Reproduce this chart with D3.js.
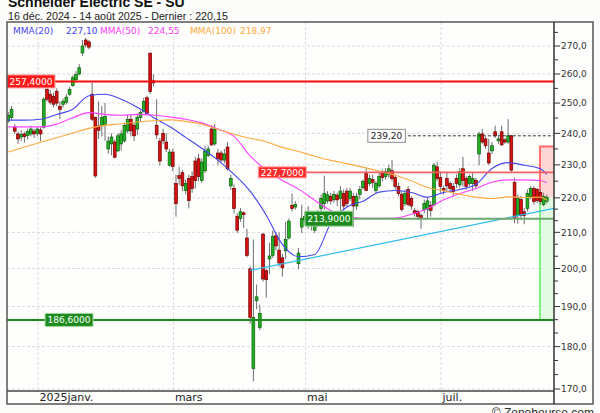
<!DOCTYPE html>
<html><head><meta charset="utf-8">
<script src="https://cdn.jsdelivr.net/npm/d3@7"></script>
<style>
html,body{margin:0;padding:0;background:#fcfdfb;overflow:hidden;}
svg{display:block;}
</style></head><body>
<svg id="c" width="600" height="413"></svg>
<script>
const titleText = "Schneider Electric SE - SU";
const subtitleText = "16 déc. 2024 - 14 août 2025 - Dernier : 220,15";

// Daily OHLC, trading-day index 0 = 16 déc. 2024 ... 167 = 14 août 2025
const opens = [244.0,245.2,242.0,239.8,238.8,239.8,239.3,239.8,240.7,240.0,241.1,242.0,254.6,253.0,252.3,254.0,248.9,249.6,250.3,253.0,256.0,258.0,260.0,267.5,272.2,271.5,253.0,245.2,242.4,242.6,243.0,235.0,236.6,237.2,234.4,236.6,237.6,240.8,244.6,242.6,241.4,245.2,247.2,251.8,267.4,257.6,242.6,237.5,240.0,237.2,229.9,234.0,224.3,226.7,227.6,222.2,225.8,226.4,231.2,231.9,225.2,228.2,232.9,241.4,236.6,233.7,233.7,231.5,235.6,223.6,222.8,214.6,214.0,215.6,208.4,199.9,174.8,191.5,184.7,209.5,199.4,202.6,203.6,209.0,205.0,202.9,204.8,208.4,217.8,217.3,201.3,211.5,213.5,215.0,213.5,210.6,212.5,216.9,218.3,219.1,220.4,219.5,220.8,219.8,221.3,222.0,219.8,220.4,217.6,221.0,223.0,227.3,224.3,225.5,222.2,223.6,227.6,226.4,227.0,228.2,226.1,223.4,221.0,218.3,222.5,219.8,216.2,216.0,214.8,216.5,216.6,217.8,217.9,229.4,226.1,222.8,225.8,224.3,223.4,225.8,223.9,228.8,225.8,224.3,224.3,225.2,233.4,239.8,238.2,233.7,234.4,240.5,237.6,240.5,237.9,237.2,239.2,224.6,214.8,219.5,215.9,216.9,220.4,222.8,222.5,221.6,218.0,219.0];
const highs = [247.0,249.0,243.0,240.5,241.0,240.5,241.5,242.5,241.5,242.0,242.0,252.0,256.0,254.5,253.5,255.0,250.5,251.5,253.0,255.5,259.5,261.0,263.5,272.2,273.0,272.2,257.0,245.5,250.5,249.0,250.0,239.0,240.0,238.0,240.0,241.0,243.5,246.0,246.2,243.5,246.5,247.5,251.8,252.5,267.6,259.8,251.3,238.5,241.5,240.0,235.0,235.0,227.0,229.4,228.5,225.5,227.0,228.0,232.5,233.5,232.0,236.0,236.0,242.6,243.0,235.0,234.5,235.0,237.2,227.0,224.0,215.5,217.0,216.0,211.0,200.5,208.0,195.7,190.5,209.8,200.0,207.0,210.5,210.0,210.0,204.0,213.0,214.0,221.3,219.0,205.6,218.0,216.0,217.5,214.5,212.5,216.5,221.0,226.7,222.0,221.5,222.0,221.5,223.5,222.5,223.0,223.0,221.5,221.5,223.5,225.5,229.0,227.0,227.0,225.0,227.5,228.5,229.0,230.0,231.5,227.0,224.5,222.0,222.5,223.5,220.5,217.0,216.5,215.5,219.5,220.0,219.0,230.6,231.0,228.0,223.5,227.5,225.0,224.5,227.0,229.0,232.5,226.5,227.0,227.5,226.0,240.5,241.4,239.0,238.2,237.2,242.5,239.0,242.5,238.5,244.6,239.5,226.1,221.0,220.5,217.0,222.5,223.5,223.5,223.0,222.5,221.5,221.0];
const lows = [243.5,244.5,239.8,236.6,237.5,237.0,238.0,239.0,238.5,239.0,237.5,241.5,250.5,249.5,248.5,249.0,244.6,248.5,249.5,252.5,255.5,257.5,259.5,266.5,269.5,268.8,244.0,226.0,238.2,239.0,237.6,233.5,233.0,232.0,234.0,234.5,237.0,240.0,239.0,237.5,239.5,244.0,246.8,246.2,253.0,255.6,238.2,229.7,236.5,234.0,229.5,228.0,214.5,223.9,222.0,221.0,216.9,221.5,222.8,225.0,224.5,227.5,232.5,236.0,236.0,230.0,230.5,230.5,228.2,222.4,215.5,209.8,213.0,211.2,203.0,185.7,171.8,189.3,184.0,196.5,192.3,198.5,202.9,205.0,200.5,197.8,202.6,208.0,216.0,216.5,199.8,209.8,212.0,211.0,210.5,209.8,211.5,216.0,216.5,218.3,218.0,218.5,217.5,215.5,216.5,217.5,219.0,211.5,216.5,219.5,222.5,222.0,223.5,223.0,221.5,223.0,225.0,225.5,226.0,225.0,222.5,220.5,216.0,217.5,217.5,216.5,214.5,213.5,211.0,215.5,214.0,214.5,217.5,225.0,221.5,221.0,222.0,221.5,220.5,223.0,223.0,223.3,222.4,223.5,222.0,222.5,229.9,236.6,235.0,230.0,233.4,238.5,236.6,236.0,236.6,236.6,227.6,212.6,212.5,213.5,212.3,216.0,219.5,218.0,218.5,218.0,217.5,218.3];
const closes = [245.8,247.9,240.7,238.2,239.6,239.0,240.6,241.4,239.8,241.4,239.8,251.3,251.3,250.3,249.6,250.0,247.9,250.6,252.0,254.6,258.7,259.8,262.2,270.0,270.4,269.6,244.6,226.6,241.0,245.2,245.5,237.5,238.8,232.4,239.2,239.8,242.6,244.6,240.8,239.2,245.2,246.9,250.6,246.5,253.9,256.9,239.5,231.2,237.6,235.0,234.0,229.5,218.3,225.8,223.6,224.3,219.2,222.8,225.2,226.4,230.9,234.3,235.0,236.3,241.4,231.9,231.5,233.4,228.8,225.8,216.9,210.6,215.9,215.1,203.6,187.2,187.2,192.5,188.2,197.2,197.0,203.4,208.8,206.2,201.5,200.2,208.0,213.2,216.9,218.0,204.2,214.0,214.5,213.0,212.0,211.7,215.5,219.8,221.3,220.9,219.1,221.0,219.4,222.0,217.6,218.3,222.0,217.6,220.5,222.5,224.9,222.2,225.8,224.6,224.3,226.4,226.1,227.9,228.8,225.8,223.4,221.3,216.6,221.3,218.0,217.6,215.4,214.6,214.0,218.3,219.1,216.3,229.9,225.8,223.4,222.2,223.6,222.8,221.9,224.3,227.9,225.2,223.4,226.4,225.8,223.6,239.8,237.2,236.0,230.6,236.0,239.2,238.2,236.3,237.2,239.2,228.4,214.0,219.8,214.8,214.8,221.3,222.8,218.9,219.2,218.9,220.4,220.15];

// Moving averages at these trading-day indices
const maIndex = [0,5,10,15,20,25,30,35,40,45,50,55,60,65,70,75,80,85,90,95,100,105,110,115,120,125,130,135,140,145,150,155,160,165,167];
const ma20 = [244.3,244.3,244.6,246.2,247.9,252.5,253.0,251.3,248.6,245.2,242.2,238.7,235.2,231.5,227.1,222.0,214.9,206.6,203.2,203.8,212.5,217.3,219.0,221.7,222.2,221.6,220.2,221.6,222.5,224.0,228.9,230.7,229.9,228.8,227.1];
const ma50 = [242.1,242.1,242.1,243.0,245.1,246.8,246.2,245.9,246.2,246.0,245.4,244.6,243.4,241.4,239.0,232.8,228.4,225.2,222.6,219.3,216.3,214.6,214.0,214.0,214.1,215.2,216.8,219.4,221.3,222.8,224.7,225.4,225.4,225.2,224.55];
const ma100 = [234.0,235.6,237.1,238.6,240.1,241.6,242.6,243.1,243.7,244.1,244.4,243.9,243.0,241.3,239.7,238.4,237.3,235.5,234.2,232.7,231.4,230.4,229.3,228.1,226.8,225.1,223.1,222.1,221.1,220.2,219.8,220.3,220.1,220.2,219.3];
const maNames = ["MMA(20)","MMA(50)","MMA(100)"];
const maLast = ["227,10","224,55","218,97"];

// Axis ticks
const yTicks = [170,180,190,200,210,220,230,240,250,260,270];
const monthIndex = [10,52,93,135];
const monthLabels = ["2025janv.","mars","mai","juil."];

// Levels and annotations
const levelValues = [257.4, 227.7, 213.9, 186.6];
const levelLabels = ["257,4000","227,7000","213,9000","186,6000"];
const dashedLevel = 239.2;
const dashedLabel = "239,20";
const trendIndex = [75, 169.2];
const trendValues = [199.5, 216.9];
const targetHigh = 235.8;
const lastPrice = 220.15;
const targetLow = 186.6;

// ---------- drawing ----------
const svg = d3.select("#c");
const L = 7, R = 554, T = 22, B = 391, AX = 593, BB = 404;
const x = d3.scaleLinear().domain([0, 167]).range([8.3, 546.8]);
const y = d3.scaleLog().domain([170, 270]).range([389, 46]);
const fmt1 = v => d3.format(".1f")(v).replace(".", ",");

svg.append("rect").attr("x",0).attr("y",0).attr("width",600).attr("height",413).attr("fill","#fcfdfb");
svg.append("rect").attr("x",L).attr("y",T).attr("width",AX-L).attr("height",BB-T).attr("fill","#fefefd");

// title
svg.append("text").attr("x",8).attr("y",6.5).attr("font-family","Liberation Sans, Arial, sans-serif")
  .attr("font-weight","bold").attr("font-size",14).attr("fill","#111").text(titleText);
svg.append("text").attr("x",8).attr("y",19.5).attr("font-family","Liberation Sans, Arial, sans-serif")
  .attr("font-size",10.7).attr("fill","#222").text(subtitleText);

const clip = svg.append("defs").append("clipPath").attr("id","pc");
clip.append("rect").attr("x",L).attr("y",T).attr("width",R-L).attr("height",B-T);
const g = svg.append("g").attr("clip-path","url(#pc)");

// grid
g.selectAll(".hg").data(yTicks).enter().append("line")
  .attr("x1",L).attr("x2",R).attr("y1",d=>y(d)).attr("y2",d=>y(d))
  .attr("stroke","#dcdcdc").attr("stroke-width",1).attr("stroke-dasharray","3,2");
g.selectAll(".vg").data(monthIndex).enter().append("line")
  .attr("x1",d=>x(d-0.8)).attr("x2",d=>x(d-0.8)).attr("y1",T).attr("y2",B)
  .attr("stroke","#dcdcdc").attr("stroke-width",1).attr("stroke-dasharray","3,2");

// projection boxes
const bx = x(165) - 0.4;
g.append("rect").attr("x",bx).attr("y",y(targetHigh)).attr("width",R-bx).attr("height",y(lastPrice)-y(targetHigh))
  .attr("fill","#ffc8c8").attr("fill-opacity",0.75);
g.append("path").attr("d",`M${bx},${y(lastPrice)}V${y(targetHigh)}H${R}`)
  .attr("fill","none").attr("stroke","#ff6a6a").attr("stroke-width",2);
g.append("rect").attr("x",bx).attr("y",y(lastPrice)).attr("width",R-bx).attr("height",y(targetLow)-y(lastPrice))
  .attr("fill","#dcfadc").attr("fill-opacity",0.8);
g.append("line").attr("x1",bx).attr("x2",bx).attr("y1",y(lastPrice)).attr("y2",y(targetLow))
  .attr("stroke","#7ef07e").attr("stroke-width",2);

// candles
const idx = d3.range(closes.length);
g.selectAll(".wk").data(idx).enter().append("line")
  .attr("x1",i=>x(i)).attr("x2",i=>x(i)).attr("y1",i=>y(highs[i])).attr("y2",i=>y(lows[i]))
  .attr("stroke","#6e6e6e").attr("stroke-width",1);
g.selectAll(".bd").data(idx).enter().append("rect")
  .attr("x",i=>x(i)-1.4).attr("width",2.8)
  .attr("y",i=>y(Math.max(opens[i],closes[i])))
  .attr("height",i=>Math.max(1,Math.abs(y(opens[i])-y(closes[i]))))
  .attr("fill",i=>closes[i]>=opens[i]?"#22b022":"#d81010")
  .attr("stroke",i=>closes[i]>=opens[i]?"#0b5e0b":"#6e0000").attr("stroke-width",0.7);

// moving averages
const maLine = d3.line().x(d=>x(d[0])).y(d=>y(d[1])).curve(d3.curveMonotoneX);
const maColors = ["#4646f0","#ff40ff","#ffaa40"];
[ma20, ma50, ma100].forEach((arr,k)=>{
  g.append("path").datum(maIndex.map((i,j)=>[i,arr[j]])).attr("d",maLine)
    .attr("fill","none").attr("stroke",maColors[k]).attr("stroke-width",1.1);
});

// trend line
g.append("line").attr("x1",x(trendIndex[0])).attr("y1",y(trendValues[0]))
  .attr("x2",x(trendIndex[1])).attr("y2",y(trendValues[1]))
  .attr("stroke","#2ebcf0").attr("stroke-width",1.2);

// level lines
const lvlStart = [L, x(78)-1.5, x(92)+48, L];
const lvlColor = ["#ff0a0a","#f26060","#6fa86f","#1f8a1f"];
const lvlWidth = [2,1.6,2,2];
levelValues.forEach((v,k)=>{
  g.append("line").attr("x1",lvlStart[k]).attr("x2",R).attr("y1",y(v)).attr("y2",y(v))
    .attr("stroke",lvlColor[k]).attr("stroke-width",lvlWidth[k]);
});
// dashed level
g.append("line").attr("x1",x(111.5)+40).attr("x2",R).attr("y1",y(dashedLevel)).attr("y2",y(dashedLevel))
  .attr("stroke","#333").attr("stroke-width",1).attr("stroke-dasharray","3,2");

// level label boxes
const lblX = [L, x(78)-1.5, x(92), x(11.4)];
const lblFill = ["#ff1a1a","#ff2a2a","#1d8a1d","#1d8a1d"];
const lblStroke = ["#ff9a9a","#ff9a9a","#9fd89f","#9fd89f"];
const lblH = [13,11,15,13];
levelValues.forEach((v,k)=>{
  const gg = svg.append("g");
  const t = gg.append("text").attr("x",lblX[k]+2.5).attr("y",y(v)+3.3)
    .attr("font-family","DejaVu Sans, Verdana, sans-serif").attr("font-size",9).attr("fill","#fff").text(levelLabels[k]);
  const w = t.node().getComputedTextLength()+5;
  gg.insert("rect","text").attr("x",lblX[k]).attr("y",y(v)-lblH[k]/2).attr("width",w).attr("height",lblH[k])
    .attr("fill",lblFill[k]).attr("stroke",lblStroke[k]).attr("stroke-width",1);
});
{
  const gg = svg.append("g");
  const t = gg.append("text").attr("x",x(111.5)+3).attr("y",y(dashedLevel)+3.3)
    .attr("font-family","DejaVu Sans, Verdana, sans-serif").attr("font-size",9).attr("fill","#222").text(dashedLabel);
  const w = t.node().getComputedTextLength()+6;
  gg.insert("rect","text").attr("x",x(111.5)).attr("y",y(dashedLevel)-6.5).attr("width",w).attr("height",13)
    .attr("fill","#fff").attr("stroke","#8a8a8a").attr("stroke-width",1);
}

// legend
const legX = [13,66,100,148,190,240];
maNames.forEach((n,k)=>{
  svg.append("text").attr("x",legX[2*k]).attr("y",33.5).attr("font-family","DejaVu Sans, Verdana, sans-serif")
    .attr("font-size",9).attr("fill",maColors[k]).text(n);
  svg.append("text").attr("x",legX[2*k+1]).attr("y",33.5).attr("font-family","DejaVu Sans, Verdana, sans-serif")
    .attr("font-size",9).attr("fill",maColors[k]).text(maLast[k]);
});

// frame
svg.append("rect").attr("x",L).attr("y",T).attr("width",AX-L).attr("height",BB-T)
  .attr("fill","none").attr("stroke","#555").attr("stroke-width",1.5);
svg.append("line").attr("x1",L).attr("x2",R).attr("y1",B).attr("y2",B).attr("stroke","#444").attr("stroke-width",1.5);
svg.append("line").attr("x1",R).attr("x2",R).attr("y1",T).attr("y2",BB).attr("stroke","#333").attr("stroke-width",1.5);

// y axis ticks and labels
const axis = svg.append("g");
yTicks.forEach(v=>{
  axis.append("line").attr("x1",R).attr("x2",R+6).attr("y1",y(v)).attr("y2",y(v)).attr("stroke","#333");
  axis.append("text").attr("x",R+7).attr("y",y(v)+3.3).attr("font-family","DejaVu Sans, Verdana, sans-serif")
    .attr("font-size",9).attr("fill","#333").text(fmt1(v));
});
const minorBounds = [160].concat(yTicks).concat([280]);
for (let k=0;k<minorBounds.length-1;k++){
  const a = minorBounds[k], b = minorBounds[k+1];
  const n = Math.max(2, Math.round((y(a)-y(b))/13.3));
  for (let j=1;j<n;j++){
    const v = a + (b-a)*j/n, py = y(v);
    if (py > T+2 && py < BB-1)
      axis.append("line").attr("x1",R).attr("x2",R+4).attr("y1",py).attr("y2",py).attr("stroke","#333");
  }
}

// x labels
monthIndex.forEach((m,k)=>{
  svg.append("text").attr("x",x(m-0.8)+1.5).attr("y",400.5).attr("font-family","DejaVu Sans, Verdana, sans-serif")
    .attr("font-size",11).attr("fill","#222").text(monthLabels[k]);
});

svg.append("text").attr("x",594).attr("y",417).attr("text-anchor","end")
  .attr("font-family","Liberation Sans, Arial, sans-serif").attr("font-size",12).attr("fill","#333").text("© Zonebourse.com");
</script>
</body></html>
